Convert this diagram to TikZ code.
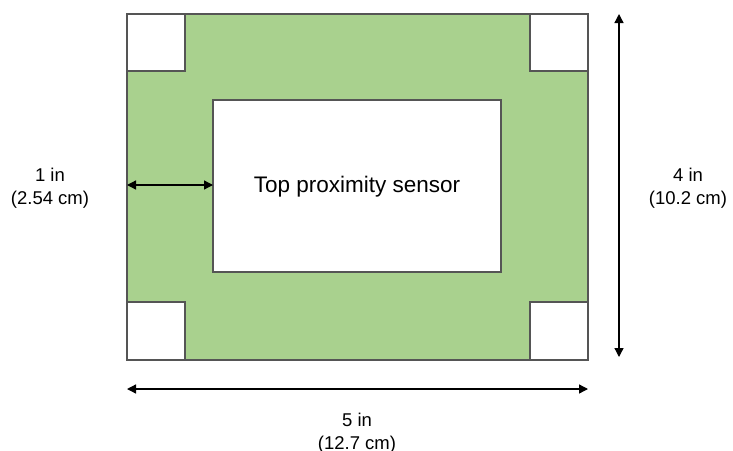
\documentclass[tikz,border=0pt]{standalone}
\usepackage{fontspec}
\setmainfont{Liberation Sans}
\usetikzlibrary{arrows.meta}
\definecolor{boardgreen}{HTML}{A9D18E}
\definecolor{edgegray}{HTML}{555555}
\begin{document}
\begin{tikzpicture}[x=1pt,y=-1pt,
  plate/.style={draw=edgegray,line width=1.2pt},
  dimline/.style={draw=black,line width=1.3pt,{Triangle[length=9pt,width=9pt]}-{Triangle[length=9pt,width=9pt]}},
  lbl/.style={font=\fontsize{18.5}{23}\selectfont,align=center,inner sep=0pt},
  mainlbl/.style={font=\fontsize{22.5}{26}\selectfont,inner sep=0pt}]
\useasboundingbox (0,0) rectangle (733,450);
% board
\filldraw[plate,fill=boardgreen] (127,14) rectangle (588,360);
% corner squares
\filldraw[plate,fill=white] (127,14) rectangle (185,71);
\filldraw[plate,fill=white] (530,14) rectangle (588,71);
\filldraw[plate,fill=white] (127,302) rectangle (185,360);
\filldraw[plate,fill=white] (530,302) rectangle (588,360);
% sensor
\filldraw[plate,fill=white] (213,100) rectangle (501,272);
\node[mainlbl] (sensor) at (357,187) {Top proximity sensor};
% dimension coordinates
\coordinate (m1) at (127,185);
\coordinate (m2) at (213,185);
\coordinate (v1) at (619,14);
\coordinate (v2) at (619,357);
\coordinate (h1) at (127,389);
\coordinate (h2) at (588,389);
\draw[dimline] (m1) -- (m2);
\draw[dimline] (v1) -- (v2);
\draw[dimline] (h1) -- (h2);
% labels
\node[lbl] (l1) at (50,188) {1 in\\(2.54 cm)};
\node[lbl] (l4) at (688,188) {4 in\\(10.2 cm)};
\node[lbl] (l5) at (357,433) {5 in\\(12.7 cm)};
\end{tikzpicture}
\end{document}
